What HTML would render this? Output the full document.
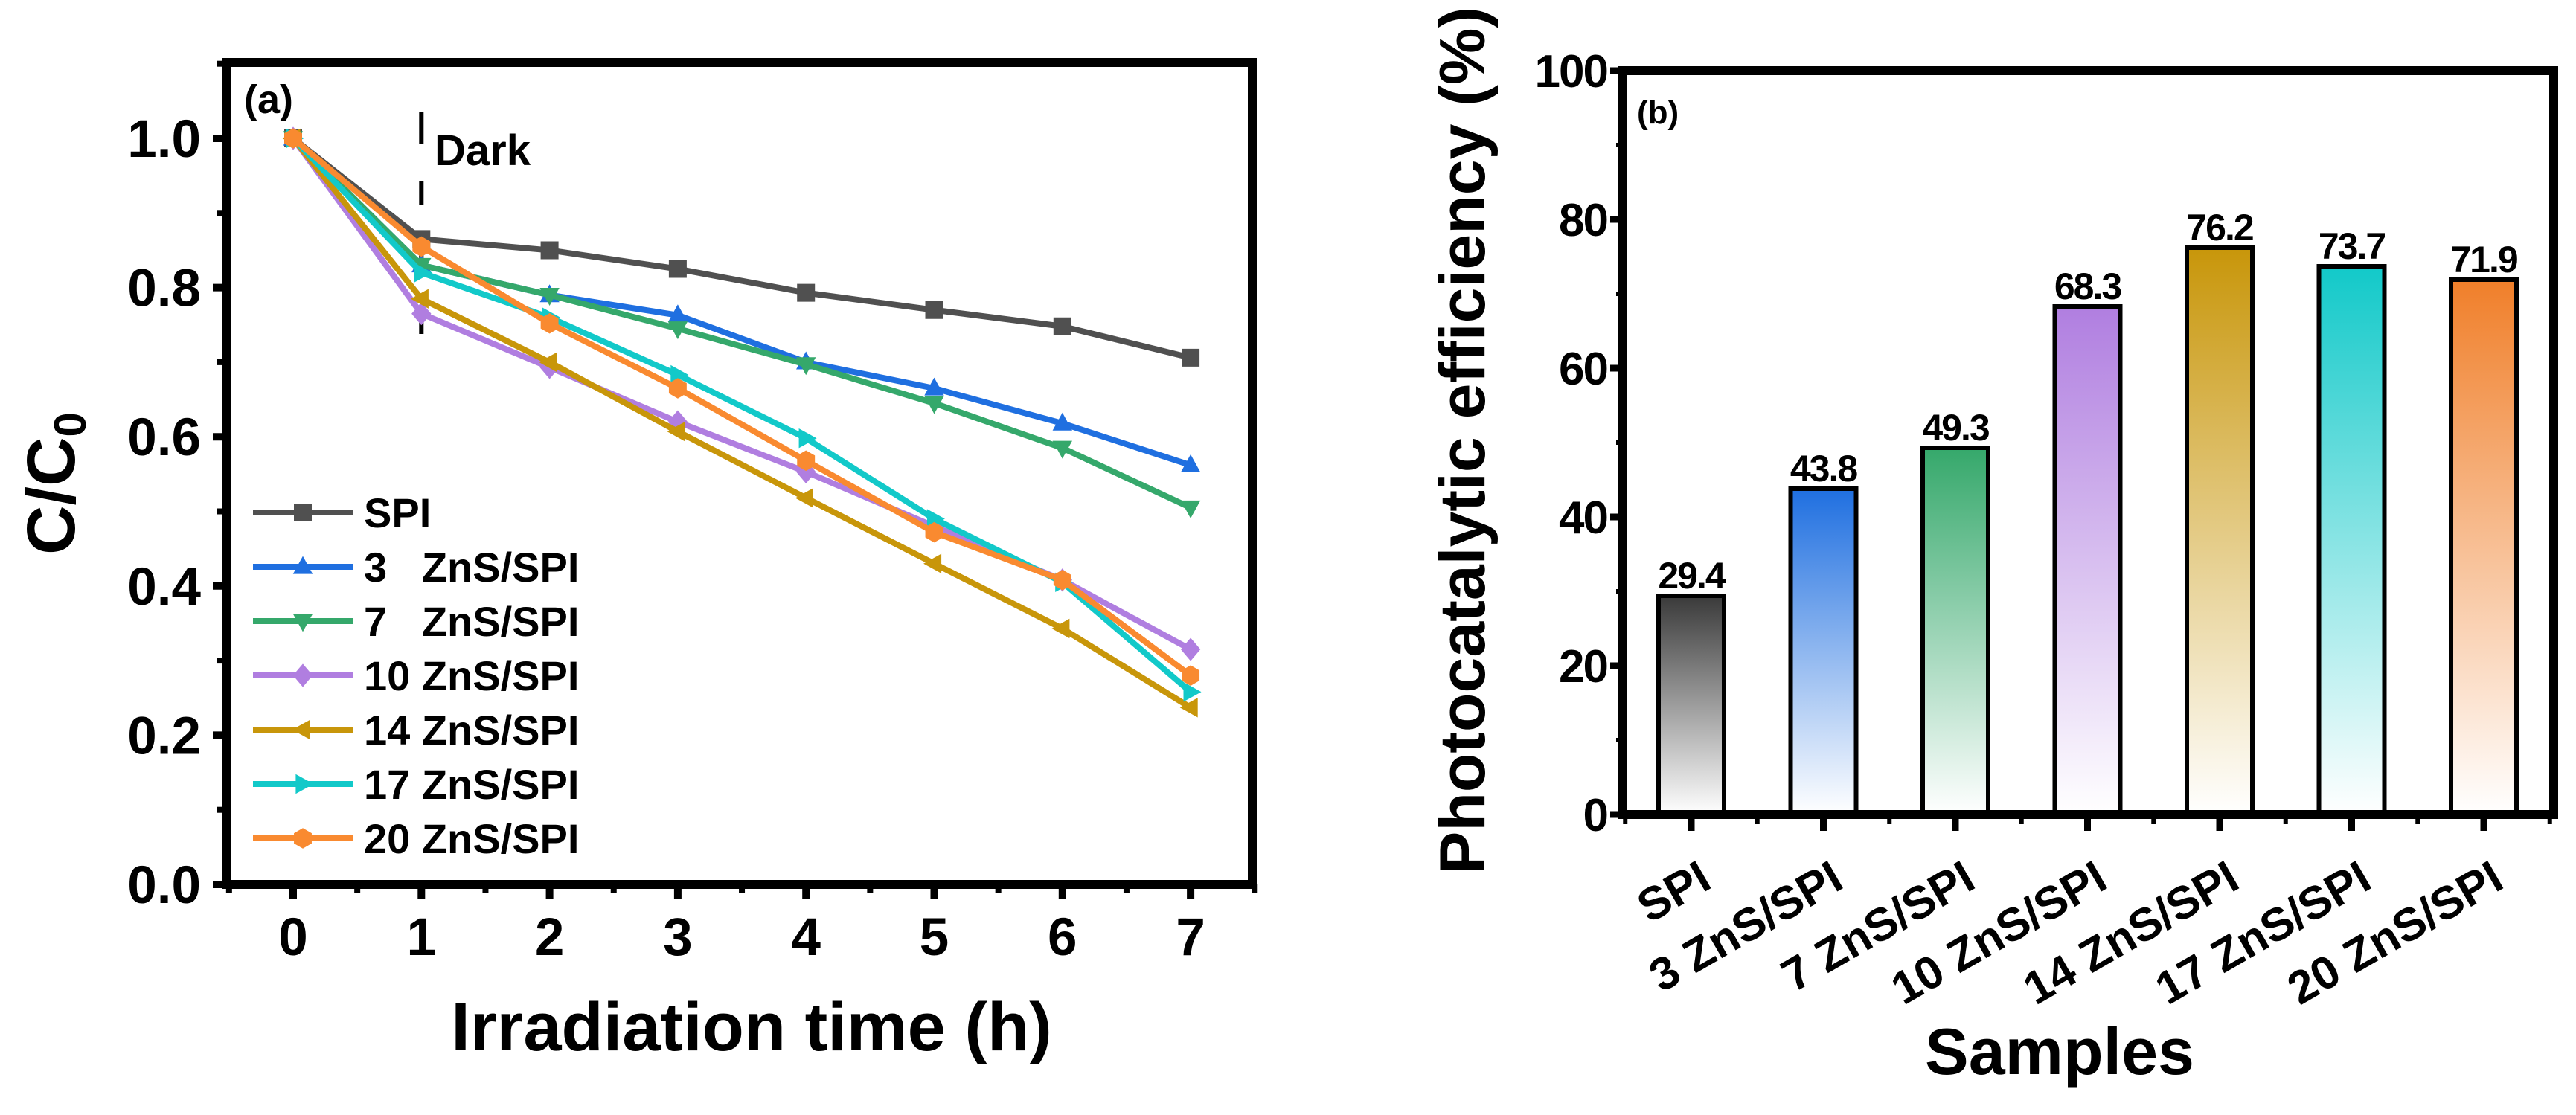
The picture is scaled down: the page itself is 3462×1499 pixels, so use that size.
<!DOCTYPE html>
<html><head><meta charset="utf-8"><style>
html,body{margin:0;padding:0;background:#fff;}
svg{display:block;font-family:"Liberation Sans",Arial,sans-serif;font-weight:bold;}
</style></head><body>
<svg id="chart" width="3462" height="1499" viewBox="0 0 3462 1499" xmlns="http://www.w3.org/2000/svg">
<defs id="defs"></defs>
<g id="left"></g>
<g id="right"></g>
</svg>
<script>
// ---- Panel (a) data ----
const times = [0, 1, 2, 3, 4, 5, 6, 7];
const seriesNames = ["SPI", "3   ZnS/SPI", "7   ZnS/SPI", "10 ZnS/SPI", "14 ZnS/SPI", "17 ZnS/SPI", "20 ZnS/SPI"];
const spiVals = [1, 0.865, 0.85, 0.825, 0.793, 0.77, 0.748, 0.706];
const zns3Vals = [1, 0.83, 0.79, 0.763, 0.70, 0.665, 0.618, 0.562];
const zns7Vals = [1, 0.83, 0.79, 0.745, 0.697, 0.645, 0.585, 0.505];
const zns10Vals = [1, 0.765, 0.693, 0.62, 0.553, 0.48, 0.408, 0.315];
const zns14Vals = [1, 0.785, 0.70, 0.607, 0.518, 0.43, 0.343, 0.237];
const zns17Vals = [1, 0.82, 0.76, 0.683, 0.598, 0.49, 0.405, 0.258];
const zns20Vals = [1, 0.855, 0.752, 0.665, 0.568, 0.472, 0.408, 0.28];
const yTicksA = ["0.0", "0.2", "0.4", "0.6", "0.8", "1.0"];
const xTicksA = ["0", "1", "2", "3", "4", "5", "6", "7"];
// ---- Panel (b) data ----
const samples = ["SPI", "3 ZnS/SPI", "7 ZnS/SPI", "10 ZnS/SPI", "14 ZnS/SPI", "17 ZnS/SPI", "20 ZnS/SPI"];
const efficiency = [29.4, 43.8, 49.3, 68.3, 76.2, 73.7, 71.9];
const effLabels = ["29.4", "43.8", "49.3", "68.3", "76.2", "73.7", "71.9"];
const yTicksB = ["0", "20", "40", "60", "80", "100"];

const NS = "http://www.w3.org/2000/svg";
function mk(parent, tag, attrs, text) {
  const e = document.createElementNS(NS, tag);
  for (const k in attrs) e.setAttribute(k, attrs[k]);
  if (text !== undefined) e.textContent = text;
  parent.appendChild(e);
  return e;
}
const colors = ["#505050", "#1f6fe0", "#35a86b", "#b07ee0", "#c8960a", "#12c9c9", "#f98a30"];
const markers = ["square", "up", "down", "diamond", "left", "right", "hex"];
const allVals = [spiVals, zns3Vals, zns7Vals, zns10Vals, zns14Vals, zns17Vals, zns20Vals];

// ---- Panel (a) ----
const L = document.getElementById("left");
const ax = t => 394 + 172.3 * t;
const ay = v => 1189 - 1003 * v;
function markerPath(type, x, y, r) {
  switch (type) {
    case "square": return `M${x-r},${y-r}h${2*r}v${2*r}h${-2*r}z`;
    case "up": return `M${x},${y-r*1.2}L${x+r*1.1},${y+r*0.8}L${x-r*1.1},${y+r*0.8}z`;
    case "down": return `M${x},${y+r*1.2}L${x+r*1.1},${y-r*0.8}L${x-r*1.1},${y-r*0.8}z`;
    case "diamond": return `M${x},${y-r*1.3}L${x+r*1.1},${y}L${x},${y+r*1.3}L${x-r*1.1},${y}z`;
    case "left": return `M${x-r*1.2},${y}L${x+r*0.8},${y-r*1.1}L${x+r*0.8},${y+r*1.1}z`;
    case "right": return `M${x+r*1.2},${y}L${x-r*0.8},${y-r*1.1}L${x-r*0.8},${y+r*1.1}z`;
    default: {
      let d = "";
      for (let i = 0; i < 6; i++) { const a = Math.PI / 3 * i + Math.PI / 6; d += (i ? "L" : "M") + (x + r * 1.15 * Math.cos(a)) + "," + (y + r * 1.15 * Math.sin(a)); }
      return d + "z";
    }
  }
}
// dark line
const darkLine = mk(L, "line", {x1: ax(1), x2: ax(1), y1: 151, y2: 495, stroke: "#000", "stroke-width": 6, "stroke-dasharray": "42 50 32 50"});


// series
allVals.forEach((vals, s) => {
  const g = mk(L, "g", {});
  
  
  const pts = vals.map((v, i) => ax(times[i]) + "," + ay(v)).join(" ");
  const pl = mk(g, "polyline", {points: pts, fill: "none", stroke: colors[s], "stroke-width": 8, "stroke-linejoin": "round"});
  
  
  vals.forEach((v, i) => {
    const m = mk(g, "path", {d: markerPath(markers[s], ax(times[i]), ay(v), 12), fill: colors[s]});
    
    
  });
});
// axes box
const boxA = mk(L, "rect", {x: 304, y: 84, width: 1379, height: 1105, fill: "none", stroke: "#000", "stroke-width": 12});


yTicksA.forEach((lab, i) => {
  const v = i * 0.2, y = ay(v);
  mk(L, "line", {x1: 286, x2: 304, y1: y, y2: y, stroke: "#000", "stroke-width": 10});
  mk(L, "line", {x1: 292, x2: 304, y1: ay(v + 0.1), y2: ay(v + 0.1), stroke: "#000", "stroke-width": 8});
  const t = mk(L, "text", {x: 270, y: y + 25, "text-anchor": "end", "font-size": 71}, lab);
  
  
});
xTicksA.forEach((lab, i) => {
  const x = ax(i);
  mk(L, "line", {x1: x, x2: x, y1: 1189, y2: 1209, stroke: "#000", "stroke-width": 10});
  mk(L, "line", {x1: ax(i - 0.5), x2: ax(i - 0.5), y1: 1189, y2: 1201, stroke: "#000", "stroke-width": 8});
  const t = mk(L, "text", {x: x, y: 1284, "text-anchor": "middle", "font-size": 71}, lab);
  
  
});
mk(L, "line", {x1: ax(7.5), x2: ax(7.5), y1: 1189, y2: 1201, stroke: "#000", "stroke-width": 8});
const xt = mk(L, "text", {x: 1010, y: 1412, "text-anchor": "middle", "font-size": 92}, "Irradiation time (h)");


const yt = mk(L, "text", {x: 0, y: 0, "text-anchor": "middle", "font-size": 92, transform: "translate(100,650) rotate(-90)"});


yt.innerHTML = 'C/C<tspan font-size="60" dy="15">0</tspan>';
const pa = mk(L, "text", {x: 328, y: 152, "font-size": 54}, "(a)");


const dk = mk(L, "text", {x: 584, y: 222, "font-size": 58}, "Dark");


// legend
seriesNames.forEach((n, s) => {
  const y = 689 + 73 * s;
  const g = mk(L, "g", {});
  
  
  mk(g, "line", {x1: 340, x2: 474, y1: y, y2: y, stroke: colors[s], "stroke-width": 8});
  mk(g, "path", {d: markerPath(markers[s], 407, y, 12), fill: colors[s]});
  mk(g, "text", {x: 489, y: y + 20, "font-size": 56, "xml:space": "preserve", style: "white-space:pre"}, n);
});

// ---- Panel (b) ----
const R = document.getElementById("right");
const defs = document.getElementById("defs");
const bx = i => 2273 + 177.5 * i;
const by = v => 1095 - 10 * v;
const barColors = ["#3a3a3a", "#1f6fe0", "#35a86b", "#b07ee0", "#c8960a", "#12c9c9", "#f07f2a"];
samples.forEach((name, i) => {
  const gr = mk(defs, "linearGradient", {id: "g" + i, x1: 0, y1: 0, x2: 0, y2: 1});
  mk(gr, "stop", {offset: "0", "stop-color": barColors[i]});
  mk(gr, "stop", {offset: "1", "stop-color": "#ffffff"});
  const r = mk(R, "rect", {x: bx(i) - 44, y: by(efficiency[i]), width: 88, height: by(0) - by(efficiency[i]), fill: "url(#g" + i + ")", stroke: "#000", "stroke-width": 6});
  
  
  const t = mk(R, "text", {x: bx(i), y: by(efficiency[i]) - 10, "text-anchor": "middle", "font-size": 50, "letter-spacing": "-2"}, effLabels[i]);
  
  
  mk(R, "line", {x1: bx(i), x2: bx(i), y1: 1095, y2: 1117, stroke: "#000", "stroke-width": 9});
  mk(R, "line", {x1: bx(i - 0.5), x2: bx(i - 0.5), y1: 1095, y2: 1108, stroke: "#000", "stroke-width": 6});
  const xl = mk(R, "text", {x: 0, y: 0, "text-anchor": "end", "font-size": 62, transform: `translate(${bx(i) + 30},1192) rotate(-30)`}, name);
  
  
});
mk(R, "line", {x1: bx(6.5), x2: bx(6.5), y1: 1095, y2: 1108, stroke: "#000", "stroke-width": 6});
const boxB = mk(R, "rect", {x: 2180, y: by(100), width: 1252, height: by(0) - by(100), fill: "none", stroke: "#000", "stroke-width": 12});


yTicksB.forEach((lab, i) => {
  const v = i * 20;
  mk(R, "line", {x1: 2164, x2: 2180, y1: by(v), y2: by(v), stroke: "#000", "stroke-width": 9});
  if (v < 100) mk(R, "line", {x1: 2172, x2: 2180, y1: by(v + 10), y2: by(v + 10), stroke: "#000", "stroke-width": 6});
  const t = mk(R, "text", {x: 2160, y: by(v) + 22, "text-anchor": "end", "font-size": 62, "letter-spacing": "-2"}, lab);
  
  
});
const pb = mk(R, "text", {x: 2200, y: 166, "font-size": 44}, "(b)");


const ytb = mk(R, "text", {x: 0, y: 0, "text-anchor": "middle", "font-size": 86, transform: "translate(1995,592) rotate(-90)"}, "Photocatalytic efficiency (%)");


const xtb = mk(R, "text", {x: 2768, y: 1444, "text-anchor": "middle", "font-size": 88}, "Samples");


</script>
</body></html>
